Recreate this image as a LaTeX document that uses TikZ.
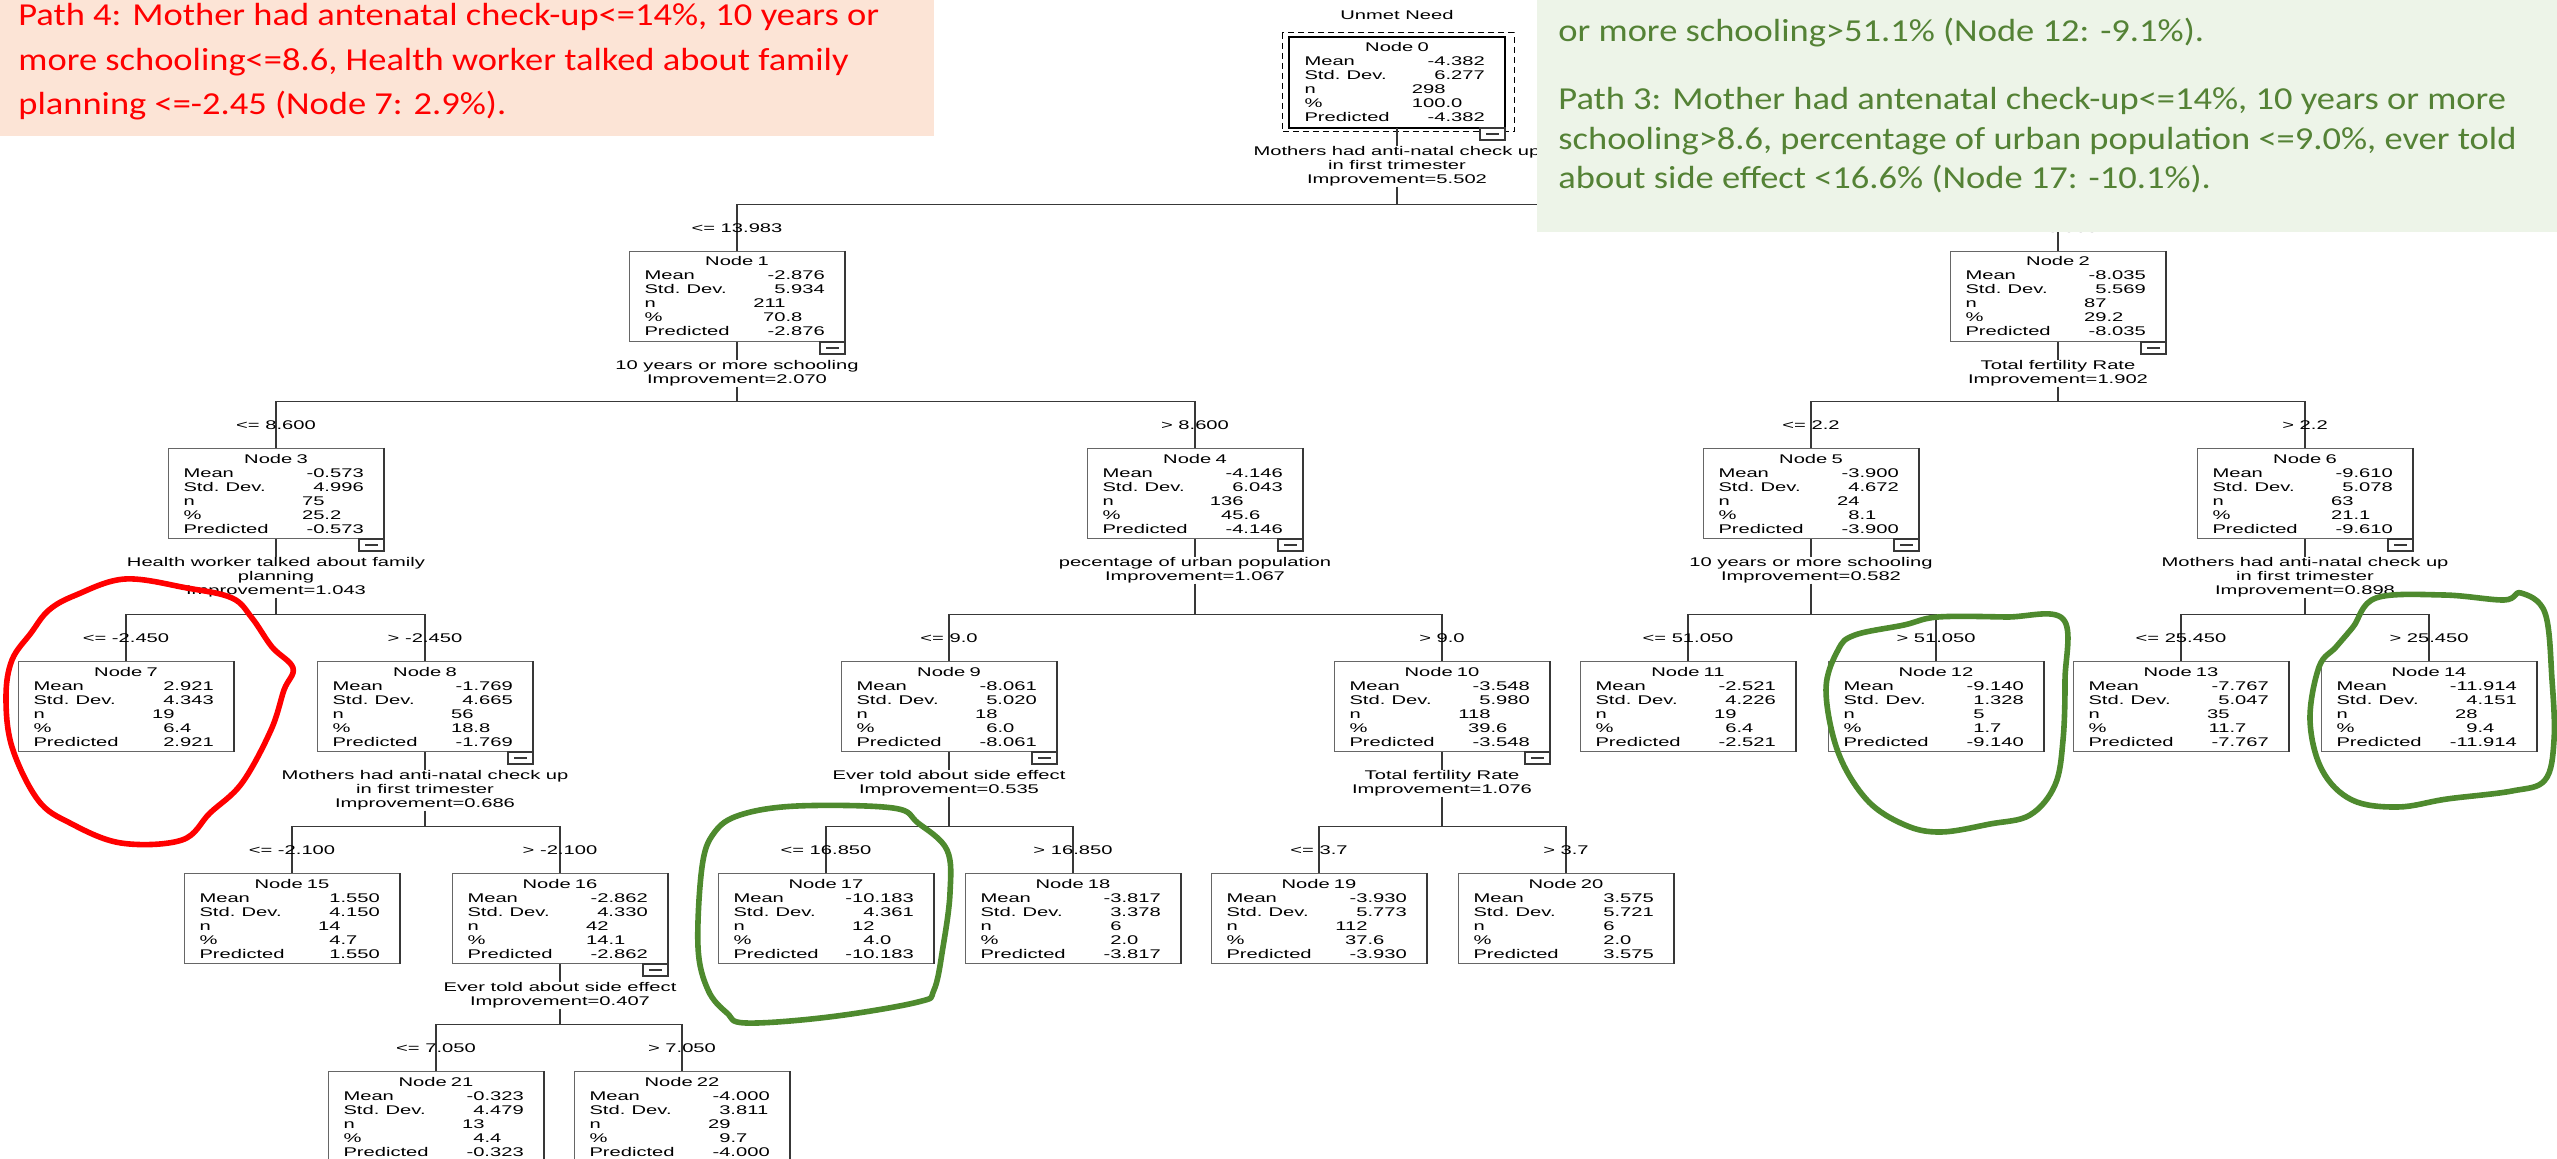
\documentclass[tikz,border=0pt]{standalone}
\usepackage{fontspec}
\setmainfont{Liberation Sans}
\newfontfamily\spss[FakeStretch=1.6]{Liberation Sans}
\newfontfamily\slide[FakeStretch=1.14]{Carlito}
\usetikzlibrary{positioning}

\definecolor{salmon}{HTML}{FCE4D6}
\definecolor{palegreen}{HTML}{EDF4E8}
\definecolor{leafgreen}{HTML}{548235}
\definecolor{penred}{HTML}{FF0000}
\definecolor{pengreen}{HTML}{4E8A2E}
\definecolor{treegray}{HTML}{383838}

% decimal aligned value: integer part right of the label column, fraction after it
\def\splitnum#1.#2.#3\relax{\makebox[0pt][r]{#1}\makebox[22pt][l]{\ifx\relax#2\relax\else.#2\fi}}
\newcommand\statrow[2]{\makebox[70.5pt][l]{#1}\expandafter\splitnum#2..\relax}

\tikzset{
  cell/.style={draw=black!60, line width=.5pt, fill=white, anchor=north,
    text width=92.5pt, inner xsep=7.5pt, inner ysep=0pt, minimum height=45pt,
    align=left, font=\spss\fontsize{6.3}{7}\selectfont},
  splitlab/.style={inner sep=0pt, align=center, font=\spss\fontsize{6.3}{7}\selectfont},
  cond/.style={inner sep=0pt, font=\spss\fontsize{6.3}{7}\selectfont},
  edge/.style={draw=treegray, line width=.75pt},
  slidetext/.style={anchor=base west, inner sep=0pt, align=left,
    font=\slide\fontsize{16}{#1}\selectfont},
  pen/.style={line width=2.8pt, line join=round, line cap=round}
}

\begin{document}
\begin{tikzpicture}[x=.5pt,y=-.5pt]
  \useasboundingbox (0,0) rectangle (2557,1159);
  \clip (0,0) rectangle (2557,1159);
  \fill[white] (0,0) rectangle (2557,1159);

  % tree nodes
  \foreach \k/\x/\y/\mean/\sd/\cnt/\pct in {
      0/1397/37/-4.382/6.277/298/100.0,
      1/737/251/-2.876/5.934/211/70.8,
      2/2058/251/-8.035/5.569/87/29.2,
      3/276/448/-0.573/4.996/75/25.2,
      4/1195/448/-4.146/6.043/136/45.6,
      5/1811/448/-3.900/4.672/24/8.1,
      6/2305/448/-9.610/5.078/63/21.1,
      7/126/661/2.921/4.343/19/6.4,
      8/425/661/-1.769/4.665/56/18.8,
      9/949/661/-8.061/5.020/18/6.0,
      10/1442/661/-3.548/5.980/118/39.6,
      11/1688/661/-2.521/4.226/19/6.4,
      12/1936/661/-9.140/1.328/5/1.7,
      13/2181/661/-7.767/5.047/35/11.7,
      14/2429/661/-11.914/4.151/28/9.4,
      15/292/873/1.550/4.150/14/4.7,
      16/560/873/-2.862/4.330/42/14.1,
      17/826/873/-10.183/4.361/12/4.0,
      18/1073/873/-3.817/3.378/6/2.0,
      19/1319/873/-3.930/5.773/112/37.6,
      20/1566/873/3.575/5.721/6/2.0,
      21/436/1071/-0.323/4.479/13/4.4,
      22/682/1071/-4.000/3.811/29/9.7}
    \node[cell] (n\k) at (\x,\y) {\makebox[92.5pt]{Node \k}\\\statrow{Mean}{\mean}\\
      \statrow{Std. Dev.}{\sd}\\\statrow{n}{\cnt}\\\statrow{\%}{\pct}\\\statrow{Predicted}{\mean}};
  \foreach \k in {0,...,22}
    \draw[line width=1.1pt, treegray] (n\k.north east) -- (n\k.south east);
  \draw[line width=1.3pt] (n0.north west) rectangle (n0.south east);
  \draw[densely dashed, line width=.5pt] ([shift={(-7,-4)}]n0.north west) rectangle ([shift={(9,4)}]n0.south east);
  \node[splitlab] (title) at (1397,15) {Unmet Need};

  % collapse boxes
  \foreach \k in {0,1,2,3,4,5,6,8,9,10,16}
    \draw[draw=treegray, line width=.6pt, fill=white] (n\k.south east) rectangle ++(-25,12)
      ([shift={(-19,6)}]n\k.south east) -- ++(13,0);

  % split variables
  \foreach \k/\txt in {
      0/{Mothers had anti-natal check up\\in first trimester\\Improvement=5.502},
      1/{10 years or more schooling\\Improvement=2.070},
      2/{Total fertility Rate\\Improvement=1.902},
      3/{Health worker talked about family\\planning\\Improvement=1.043},
      4/{pecentage of urban population\\Improvement=1.067},
      5/{10 years or more schooling\\Improvement=0.582},
      6/{Mothers had anti-natal check up\\in first trimester\\Improvement=0.898},
      8/{Mothers had anti-natal check up\\in first trimester\\Improvement=0.686},
      9/{Ever told about side effect\\Improvement=0.535},
      10/{Total fertility Rate\\Improvement=1.076},
      16/{Ever told about side effect\\Improvement=0.407}}
    \node[splitlab, below=9pt of n\k] (s\k) {\txt};

  % branches
  \foreach \p/\a/\b in {0/1/2, 1/3/4, 2/5/6, 3/7/8, 4/9/10, 5/11/12, 6/13/14,
      8/15/16, 9/17/18, 10/19/20, 16/21/22} {
    \draw[edge] (n\p.south) -- (s\p.north);
    \draw[edge] (n\a.north) -- ++(0,-46.5) coordinate (bar\p) -| (n\b.north);
    \draw[edge] (s\p.south) -- (s\p.south |- bar\p);
  }
  \foreach \k/\lab in {1/{<= 13.983}, 2/{> 13.983}, 3/{<= 8.600}, 4/{> 8.600},
      5/{<= 2.2}, 6/{> 2.2}, 7/{<= -2.450}, 8/{> -2.450}, 9/{<= 9.0}, 10/{> 9.0},
      11/{<= 51.050}, 12/{> 51.050}, 13/{<= 25.450}, 14/{> 25.450},
      15/{<= -2.100}, 16/{> -2.100}, 17/{<= 16.850}, 18/{> 16.850},
      19/{<= 3.7}, 20/{> 3.7}, 21/{<= 7.050}, 22/{> 7.050}}
    \node[cond] (c\k) at ([yshift=11.25pt]n\k.north) {\lab};

  % hand drawn marks
  \draw[pen, penred] plot[smooth cycle, tension=.6] coordinates {(125,579) (187,588) (232,598)
    (252,618) (272,647) (293,668) (284,690) (271,730) (242,783) (210,813) (182,840) (121,843)
    (70,823) (38,800) (12,747) (6,697) (12,660) (31,633) (49,610) (76,595)};
  \draw[pen, pengreen] plot[smooth cycle, tension=.6] coordinates {(740,815) (797,806) (893,808)
    (918,823) (947,850) (950,893) (943,947) (934,990) (918,1002) (829,1017) (746,1023)
    (727,1013) (708,990) (698,947) (702,867) (714,833)};
  \draw[pen, pengreen] plot[smooth cycle, tension=.6] coordinates {(1855,635) (1904,625)
    (1938,617) (2006,617) (2063,619) (2065,680) (2063,740) (2055,785) (2030,815) (1990,824)
    (1941,832) (1905,825) (1867,800) (1838,752) (1826,690) (1838,650)};
  \draw[pen, pengreen] plot[smooth cycle, tension=.6] coordinates {(2319,667) (2336,647)
    (2353,627) (2376,598) (2444,595) (2504,600) (2521,593) (2545,613) (2552,680) (2554,740)
    (2545,780) (2512,791) (2447,799) (2398,807) (2352,800) (2322,770) (2310,720)};

  % path notes
  \fill[salmon] (0,0) rectangle (934,136);
  \node[slidetext=22.25pt, text=penred] (path4) at (18,115) {Path 4: Mother had antenatal check-up<=14\%, 10 years or\\
    more schooling<=8.6, Health worker talked about family\\planning <=-2.45 (Node 7: 2.9\%).};
  \fill[palegreen] (1537,0) rectangle (2557,232);
  \node[slidetext=19.75pt, text=leafgreen] (path3) at (1558,189) {or more schooling>51.1\% (Node 12: -9.1\%).\\[14.25pt]
    Path 3: Mother had antenatal check-up<=14\%, 10 years or more\\
    schooling>8.6, percentage of urban population <=9.0\%, ever told\\
    about side effect <16.6\% (Node 17: -10.1\%).};
\end{tikzpicture}
\end{document}
